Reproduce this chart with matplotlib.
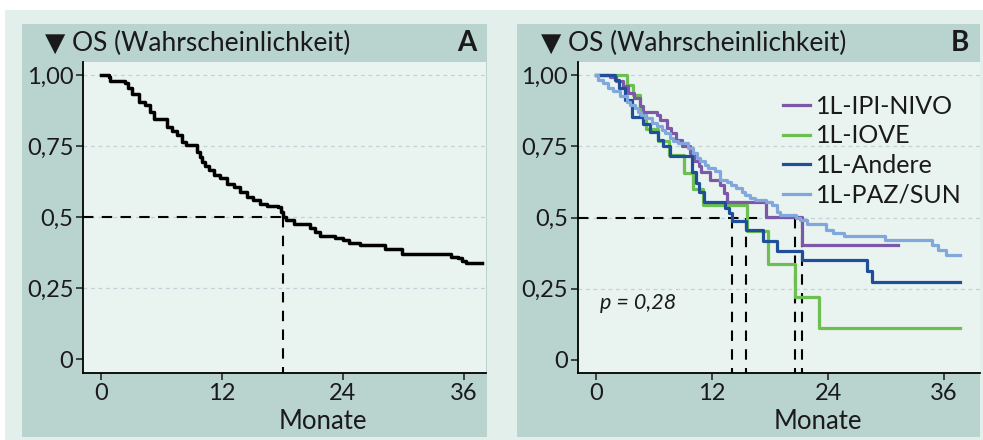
import matplotlib
matplotlib.use('Agg')
import matplotlib.pyplot as plt
from matplotlib.patches import Rectangle

plt.rcParams['font.family'] = ['Lato', 'DejaVu Sans']

# --- data ---
# panel A: overall OS (step times in months, survival after each step)
os_all_t = [0, 0.76, 0.93, 2.4, 2.7, 3.1, 3.8, 4.4, 4.9, 5.3, 6.5, 7.0, 7.5, 8.0, 8.4,
            9.5, 9.8, 10.0, 10.3, 10.7, 11.2, 11.8, 12.5, 13.2, 13.8, 14.5, 15.1, 15.8,
            16.5, 17.6, 17.9, 18.1, 18.4, 19.1, 20.7, 21.2, 21.7, 23.2, 24.0, 24.6, 25.7,
            28.2, 29.9, 34.7, 35.4, 35.8, 36.2, 37.8]
os_all_s = [1.0, 0.993, 0.98, 0.972, 0.955, 0.934, 0.905, 0.893, 0.87, 0.847, 0.817, 0.803,
            0.788, 0.765, 0.753, 0.73, 0.71, 0.695, 0.68, 0.665, 0.648, 0.636, 0.618, 0.607,
            0.589, 0.571, 0.56, 0.546, 0.539, 0.534, 0.519, 0.499, 0.49, 0.475, 0.46, 0.448,
            0.433, 0.425, 0.419, 0.407, 0.402, 0.386, 0.37, 0.361, 0.355, 0.347, 0.337, 0.337]
median_all = 18.1

# panel B: by first-line therapy
ipi_t = [0, 1.45, 2.1, 2.8, 3.3, 3.9, 4.5, 4.9, 6.3, 6.6, 7.3, 7.8, 8.3, 8.9, 9.7, 10.1,
         10.6, 10.9, 11.8, 12.8, 13.2, 13.5, 17.6, 21.3, 31.2]
ipi_s = [1.0, 0.993, 0.978, 0.96, 0.937, 0.919, 0.89, 0.872, 0.86, 0.843, 0.814, 0.796,
         0.773, 0.75, 0.726, 0.70, 0.68, 0.66, 0.632, 0.615, 0.585, 0.556, 0.503, 0.404, 0.404]

iove_t = [0, 3.2, 3.8, 4.5, 5.2, 6.4, 7.6, 9.1, 10.0, 11.1, 15.6, 17.8, 20.6, 23.1, 37.6]
iove_s = [1.0, 0.964, 0.93, 0.86, 0.81, 0.767, 0.72, 0.658, 0.60, 0.545, 0.453, 0.336,
          0.222, 0.113, 0.113]

andere_t = [0, 2.0, 2.4, 3.0, 3.7, 4.9, 5.6, 6.4, 6.9, 7.7, 9.9, 10.3, 10.7, 11.2, 13.3,
            13.7, 14.1, 15.5, 17.3, 18.7, 21.3, 28.0, 28.5, 37.6]
andere_s = [1.0, 0.982, 0.955, 0.912, 0.854, 0.83, 0.80, 0.773, 0.75, 0.717, 0.66, 0.62,
            0.588, 0.556, 0.533, 0.515, 0.486, 0.455, 0.418, 0.384, 0.351, 0.313, 0.272, 0.272]

paz_t = [0, 0.24, 0.76, 1.27, 1.79, 2.48, 3.17, 3.5, 4.0, 4.37, 4.7, 5.06, 5.75, 6.27, 6.79,
         7.13, 7.65, 8.0, 8.5, 9.54, 10.06, 10.4, 10.75, 11.26, 11.6, 12.3, 12.8, 13.5,
         14.0, 14.5, 15.05, 15.4, 15.9, 16.4, 17.6, 18.2, 18.7, 19.0, 20.7, 21.1, 21.8,
         23.8, 24.5, 25.6, 29.9, 34.7, 35.4, 36.2, 37.6]
paz_s = [1.0, 0.984, 0.972, 0.954, 0.943, 0.925, 0.907, 0.896, 0.884, 0.872, 0.86, 0.849,
         0.831, 0.82, 0.808, 0.796, 0.779, 0.767, 0.761, 0.744, 0.726, 0.708, 0.697, 0.685,
         0.673, 0.662, 0.632, 0.626, 0.615, 0.603, 0.591, 0.58, 0.568, 0.562, 0.556, 0.545,
         0.521, 0.51, 0.50, 0.49, 0.478, 0.457, 0.445, 0.436, 0.422, 0.404, 0.386, 0.369, 0.369]

groups = ['1L-IPI-NIVO', '1L-IOVE', '1L-Andere', '1L-PAZ/SUN']
colors = ['#7b58a8', '#6dbf52', '#1f4f98', '#80a8dc']
medians_b = [14.1, 15.5, 20.6, 21.3]

y_ticks = [0, 0.25, 0.5, 0.75, 1.0]
y_labels = ['0', '0,25', '0,5', '0,75', '1,00']
x_ticks = [0, 12, 24, 36]

W, H = 983, 440
mint = '#e3efeb'
band = '#b9d3cf'
plotbg = '#e9f3f0'

fig = plt.figure(figsize=(W / 100, H / 100), dpi=100, facecolor=mint)

def px_rect(x0, y0, x1, y1, color):
    fig.patches.append(Rectangle((x0 / W, 1 - y1 / H), (x1 - x0) / W, (y1 - y0) / H,
                                 transform=fig.transFigure, facecolor=color,
                                 edgecolor='none', zorder=-1))

px_rect(0, 0, W, 10, 'white')
px_rect(0, 0, 5, H, 'white')
px_rect(22, 24, 487, 437, band)
px_rect(517, 24, 980, 437, band)


def style_axes(ax, xlim, ylim):
    ax.set_facecolor(plotbg)
    ax.set_xlim(*xlim)
    ax.set_ylim(*ylim)
    for s in ['top', 'right']:
        ax.spines[s].set_visible(False)
    for s in ['left', 'bottom']:
        ax.spines[s].set_linewidth(1.3)
    ax.set_yticks(y_ticks)
    ax.set_yticklabels(y_labels)
    ax.set_xticks(x_ticks)
    ax.tick_params(labelsize=17, length=5, width=1.1, pad=2, colors='#1a1a1a')
    for yv in y_ticks[1:]:
        ax.axhline(yv, color='#c3d0d8', lw=0.9, ls=(0, (3, 3)), zorder=1)
    ax.text(0.596, -0.155, 'Monate', transform=ax.transAxes, ha='center', va='center',
            fontsize=18.5, color='#1a1a1a')


# panel A
axA = fig.add_axes([83 / W, 1 - 373 / H, (486 - 83) / W, (373 - 62) / H])
axA.set_zorder(1)
style_axes(axA, (-1.79, 38.2), (-0.049, 1.046))
axA.step(os_all_t, os_all_s, where='post', color='black', lw=2.5, zorder=3)
axA.plot([-1.79, median_all], [0.5, 0.5], color='black', lw=1.5, ls=(0, (5, 4)), zorder=2)
axA.plot([median_all, median_all], [0.5, -0.049], color='black', lw=1.5, ls=(0, (5, 4)), zorder=2)

# panel B
axB = fig.add_axes([577.7 / W, 1 - 373 / H, (980 - 577.7) / W, (373 - 62) / H])
axB.set_zorder(1)
style_axes(axB, (-1.89, 39.7), (-0.046, 1.046))
series = [(ipi_t, ipi_s), (iove_t, iove_s), (andere_t, andere_s), (paz_t, paz_s)]
zo = [4, 3, 5, 6]
for (t, s), name, c, z in zip(series, groups, colors, zo):
    axB.step(t, s, where='post', color=c, lw=2.3, label=name, zorder=z)
axB.plot([-1.89, max(medians_b)], [0.5, 0.5], color='black', lw=1.5, ls=(0, (5, 4)), zorder=2)
for m in medians_b:
    axB.plot([m, m], [0.5, -0.046], color='black', lw=1.5, ls=(0, (5, 4)), zorder=2)
axB.text(0.4, 0.2, 'p = 0,28', fontsize=15.5, style='italic', color='#1a1a1a', va='center')
axB.legend(loc='upper left', bbox_to_anchor=(0.48, 0.935), frameon=False, fontsize=18,
           handlelength=1.05, handletextpad=0.25, labelspacing=0.27, borderpad=0,
           labelcolor='#1a1a1a')

# headers
for x0, letter, lx in [(45, 'A', 467), (541, 'B', 960)]:
    fig.text(x0 / W, 1 - 43 / H, '\u25bc OS (Wahrscheinlichkeit)', fontsize=19,
             va='center', ha='left', color='#1a1a1a')
    fig.text(lx / W, 1 - 43 / H, letter, fontsize=20, fontweight='bold',
             va='center', ha='center', color='#1a1a1a')

fig.savefig('out.png', dpi=100, facecolor=mint)
